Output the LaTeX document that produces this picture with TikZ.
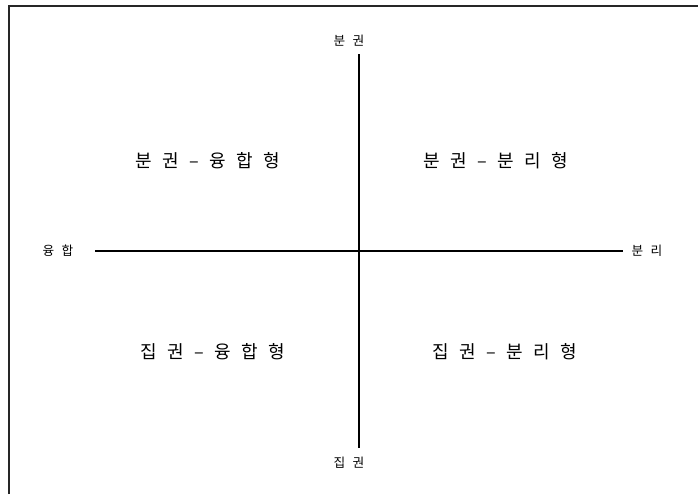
\documentclass[tikz,border=0pt]{standalone}
\usepackage{fontspec}
\usetikzlibrary{positioning}
\newfontfamily\kr[WordSpace=2.6]{Noto Sans CJK KR}

\begin{document}
\begin{tikzpicture}[
        x=0.75pt, y=-0.75pt,
        axislabel/.style={font=\kr\fontsize{9.5pt}{11pt}\selectfont, inner sep=1pt},
        quadlabel/.style={font=\kr\fontsize{13.5pt}{16pt}\selectfont, inner sep=1pt},
        axis/.style={line width=1pt, black},
        frame/.style={line width=1.5pt, black!85}
    ]
        \useasboundingbox (0,0) rectangle (698,494);
        \draw[frame] (9,494) -- (9,6) -- (698,6);

        % axes
        \coordinate (vtop) at (359,54);
        \coordinate (vbot) at (359,448);
        \coordinate (hleft) at (95,251);
        \coordinate (hright) at (623,251);
        \draw[axis] (vtop) -- (vbot);
        \draw[axis] (hleft) -- (hright);

        % axis labels
        \node[axislabel] (up) at (349,41) {분 권};
        \node[axislabel] (down) at (349,463) {집 권};
        \node[axislabel] (lt) at (58,251) {융 합};
        \node[axislabel] (rt) at (647,251) {분 리};

        % quadrants
        \node[quadlabel] (q1) at (208,161) {분 권 – 융 합 형};
        \node[quadlabel] (q2) at (496,161) {분 권 – 분 리 형};
        \node[quadlabel] (q3) at (213,352) {집 권 – 융 합 형};
        \node[quadlabel] (q4) at (505,352) {집 권 – 분 리 형};
    \end{tikzpicture}
\end{document}
